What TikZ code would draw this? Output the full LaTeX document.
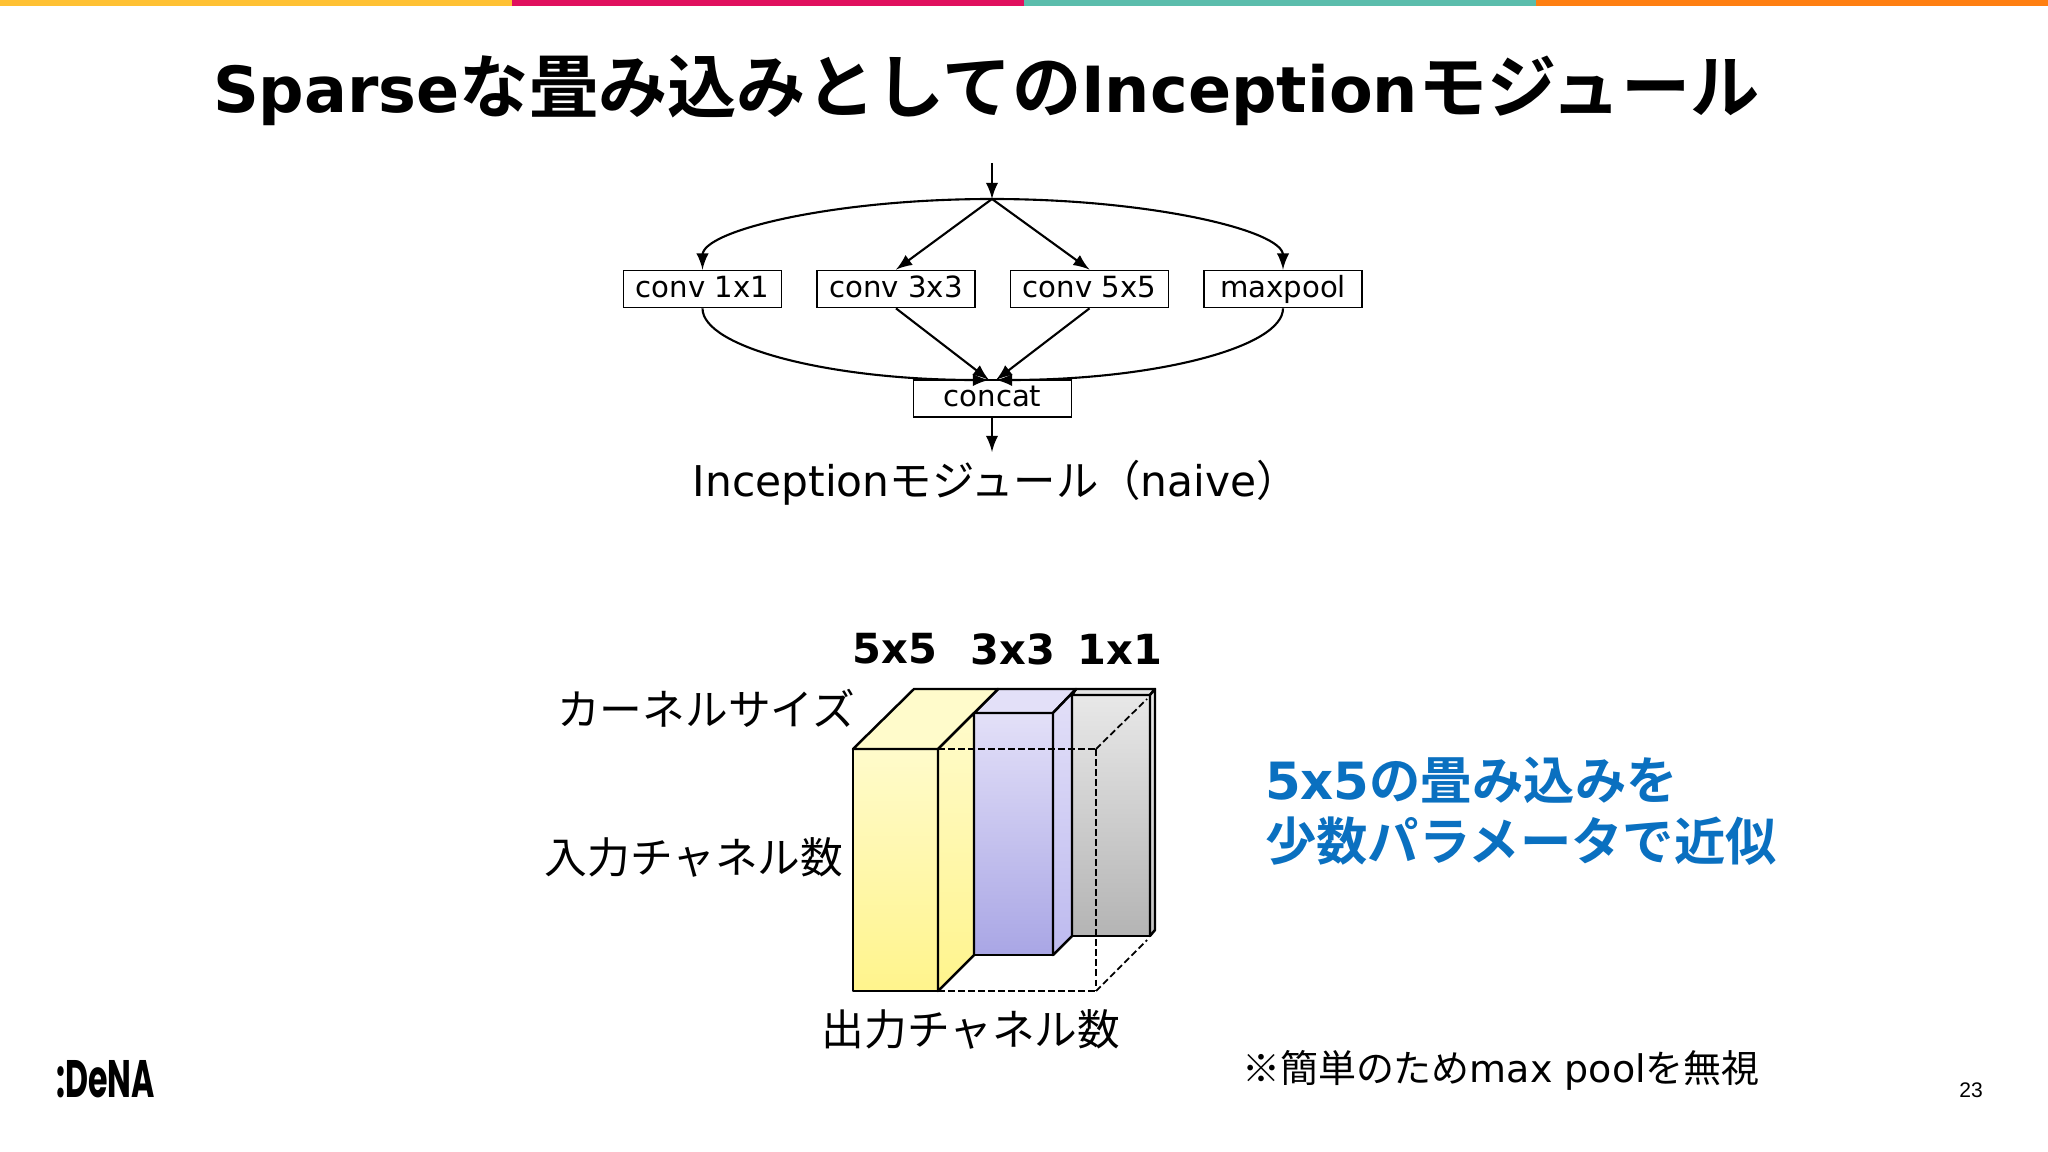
\documentclass[tikz,border=0pt]{standalone}
\usepackage{fontspec}
\setmainfont{DejaVu Sans}
\newfontfamily\jp[BoldFont={Noto Sans CJK JP Bold}]{Noto Sans CJK JP}
\newfontfamily\num{Liberation Sans}
\newfontfamily\logo{Poppins}
\newcommand{\titlejp}[1]{{\fontsize{19.7pt}{23pt}\selectfont\jp #1}}

\definecolor{barA}{HTML}{FFC133}
\definecolor{barB}{HTML}{E0105E}
\definecolor{barC}{HTML}{5BBDAC}
\definecolor{barD}{HTML}{FF7F11}
\definecolor{noteblue}{HTML}{0A70C0}
\definecolor{yellowA}{HTML}{FFFBCB}
\definecolor{yellowB}{HTML}{FFF48C}
\definecolor{violetA}{HTML}{E3E0F8}
\definecolor{violetB}{HTML}{A9A6E5}
\definecolor{violetC}{HTML}{BDBAEF}
\definecolor{grayA}{HTML}{E8E8E8}
\definecolor{grayB}{HTML}{B4B4B4}

\tikzset{
	opbox/.style={draw,line width=0.5pt,fill=white,minimum width=1.58cm,minimum height=0.37cm,inner sep=0pt,text height=0.22cm,text depth=0.06cm,font=\fontsize{8.3pt}{9pt}\selectfont},
	face/.style={draw,line width=0.7pt,line join=round},
	hidden/.style={dash pattern=on 1.9pt off 0.95pt,line width=0.5pt},
	jplabel/.style={inner sep=0pt,font=\fontsize{12.15pt}{14pt}\selectfont\jp},
	sizelabel/.style={inner sep=0pt,font=\fontsize{11.8pt}{14pt}\selectfont\bfseries}
}

\begin{document}
\begin{tikzpicture}[x=0.01cm,y=-0.01cm,>=latex,line width=0.6pt]
	\useasboundingbox (0,0) rectangle (2048,1152);

	\fill[barA] (0,0) rectangle (512,6);
	\fill[barB] (512,0) rectangle (1024,6);
	\fill[barC] (1024,0) rectangle (1536,6);
	\fill[barD] (1536,0) rectangle (2048,6);

	\node[anchor=west,inner sep=0pt,font=\fontsize{18.1pt}{23pt}\selectfont\bfseries] (title) at (212,91) {Sparse\titlejp{な畳み込みとしての}Inception\titlejp{モジュール}};

	\coordinate (in1) at (992,163);
	\coordinate (split1) at (992,199);
	\coordinate (join1) at (989,380);
	\coordinate (join2) at (996,380);
	\coordinate (out1) at (992,452);

	\node[opbox] (conv1) at (702.5,289) {conv 1x1};
	\node[opbox] (conv3) at (896,289) {conv 3x3};
	\node[opbox] (conv5) at (1089.5,289) {conv 5x5};
	\node[opbox] (pool) at (1283,289) {maxpool};
	\node[opbox] (concat) at (992.5,398.5) {concat};

	\draw[->] (in1) -- (split1);
	\draw[->] (split1) .. controls +(-159,0) and +(0,-39) .. (conv1.north);
	\draw[->] (split1) -- (conv3.north);
	\draw[->] (split1) -- (conv5.north);
	\draw[->] (split1) .. controls +(159,0) and +(0,-39) .. (pool.north);

	\draw[->] (conv1.south) .. controls +(0,39) and +(-159,0) .. (join1);
	\draw[->] (conv3.south) -- (join1);
	\draw[->] (conv5.south) -- (join2);
	\draw[->] (pool.south) .. controls +(0,39) and +(159,0) .. (join2);
	\draw[->] (concat.south -| out1) -- (out1);

	\node[inner sep=0pt,font=\fontsize{12.05pt}{14pt}\selectfont] (caption) at (996,483) {Inception{\jp モジュール（}naive{\jp ）}};

	\node[sizelabel] (k5) at (895,649) {5x5};
	\node[sizelabel] (k3) at (1013,649) {3x3};
	\node[sizelabel] (k1) at (1120,649) {1x1};

	\node[jplabel] (kernel) at (706,708) {カーネルサイズ};
	\node[jplabel] (inch) at (694,857) {入力チャネル数};
	\node[jplabel] (outch) at (971,1029) {出力チャネル数};

	\draw[face,top color=grayA,bottom color=grayB] (1072,695) rectangle (1150,936);
	\draw[face,fill=black!10] (1072,695) -- (1076,689) -- (1155,689) -- (1150,695) -- cycle;
	\draw[face,top color=grayA,bottom color=grayB!80!white] (1150,695) -- (1155,689) -- (1155,930) -- (1150,936) -- cycle;

	\draw[face,top color=violetA,bottom color=violetB] (974,713) rectangle (1053,955);
	\draw[face,fill=violetA] (974,713) -- (998,689) -- (1076,689) -- (1053,713) -- cycle;
	\draw[face,top color=violetA,bottom color=violetC] (1053,713) -- (1076,689) -- (1072,695) -- (1072,936) -- (1053,955) -- cycle;

	\draw[face,top color=yellowA,bottom color=yellowB] (853,749) rectangle (938,991);
	\draw[face,fill=yellowA] (853,749) -- (914,689) -- (998,689) -- (938,749) -- cycle;
	\draw[face,top color=yellowA,bottom color=yellowB] (938,749) -- (974,713) -- (974,955) -- (938,991) -- cycle;

	\coordinate (p1) at (938,749);
	\coordinate (p2) at (1096,749);
	\coordinate (p3) at (1147,699);
	\coordinate (p4) at (938,991);
	\coordinate (p5) at (1096,991);
	\coordinate (p6) at (1147,940);

	\draw[hidden] (p1) -- (p2);
	\draw[hidden] (p2) -- (p3);
	\draw[hidden] (p2) -- (p5);
	\draw[hidden] (p4) -- (p5);
	\draw[hidden] (p5) -- (p6);

	\node[anchor=west,inner sep=0pt,text=noteblue,font=\fontsize{14.6pt}{17pt}\selectfont\bfseries] (blue1) at (1264,780) {5x5{\jp の畳み込みを}};
	\node[anchor=west,inner sep=0pt,text=noteblue,font=\fontsize{14.6pt}{17pt}\selectfont\bfseries\jp] (blue2) at (1264,841) {少数パラメータで近似};

	\node[anchor=west,inner sep=0pt,font=\fontsize{10.8pt}{12pt}\selectfont\jp] (note) at (1241,1070) {※簡単のため{\rmfamily max pool}を無視};

	\node[inner sep=0pt,font=\fontsize{6pt}{7pt}\selectfont\num] (page) at (1971,1090) {23};

	\node[anchor=west,inner sep=0pt,font=\fontsize{15pt}{17pt}\selectfont\logo\bfseries] (brand) at (55,1079) {\scalebox{0.6}[1]{:DeNA}};
\end{tikzpicture}
\end{document}
